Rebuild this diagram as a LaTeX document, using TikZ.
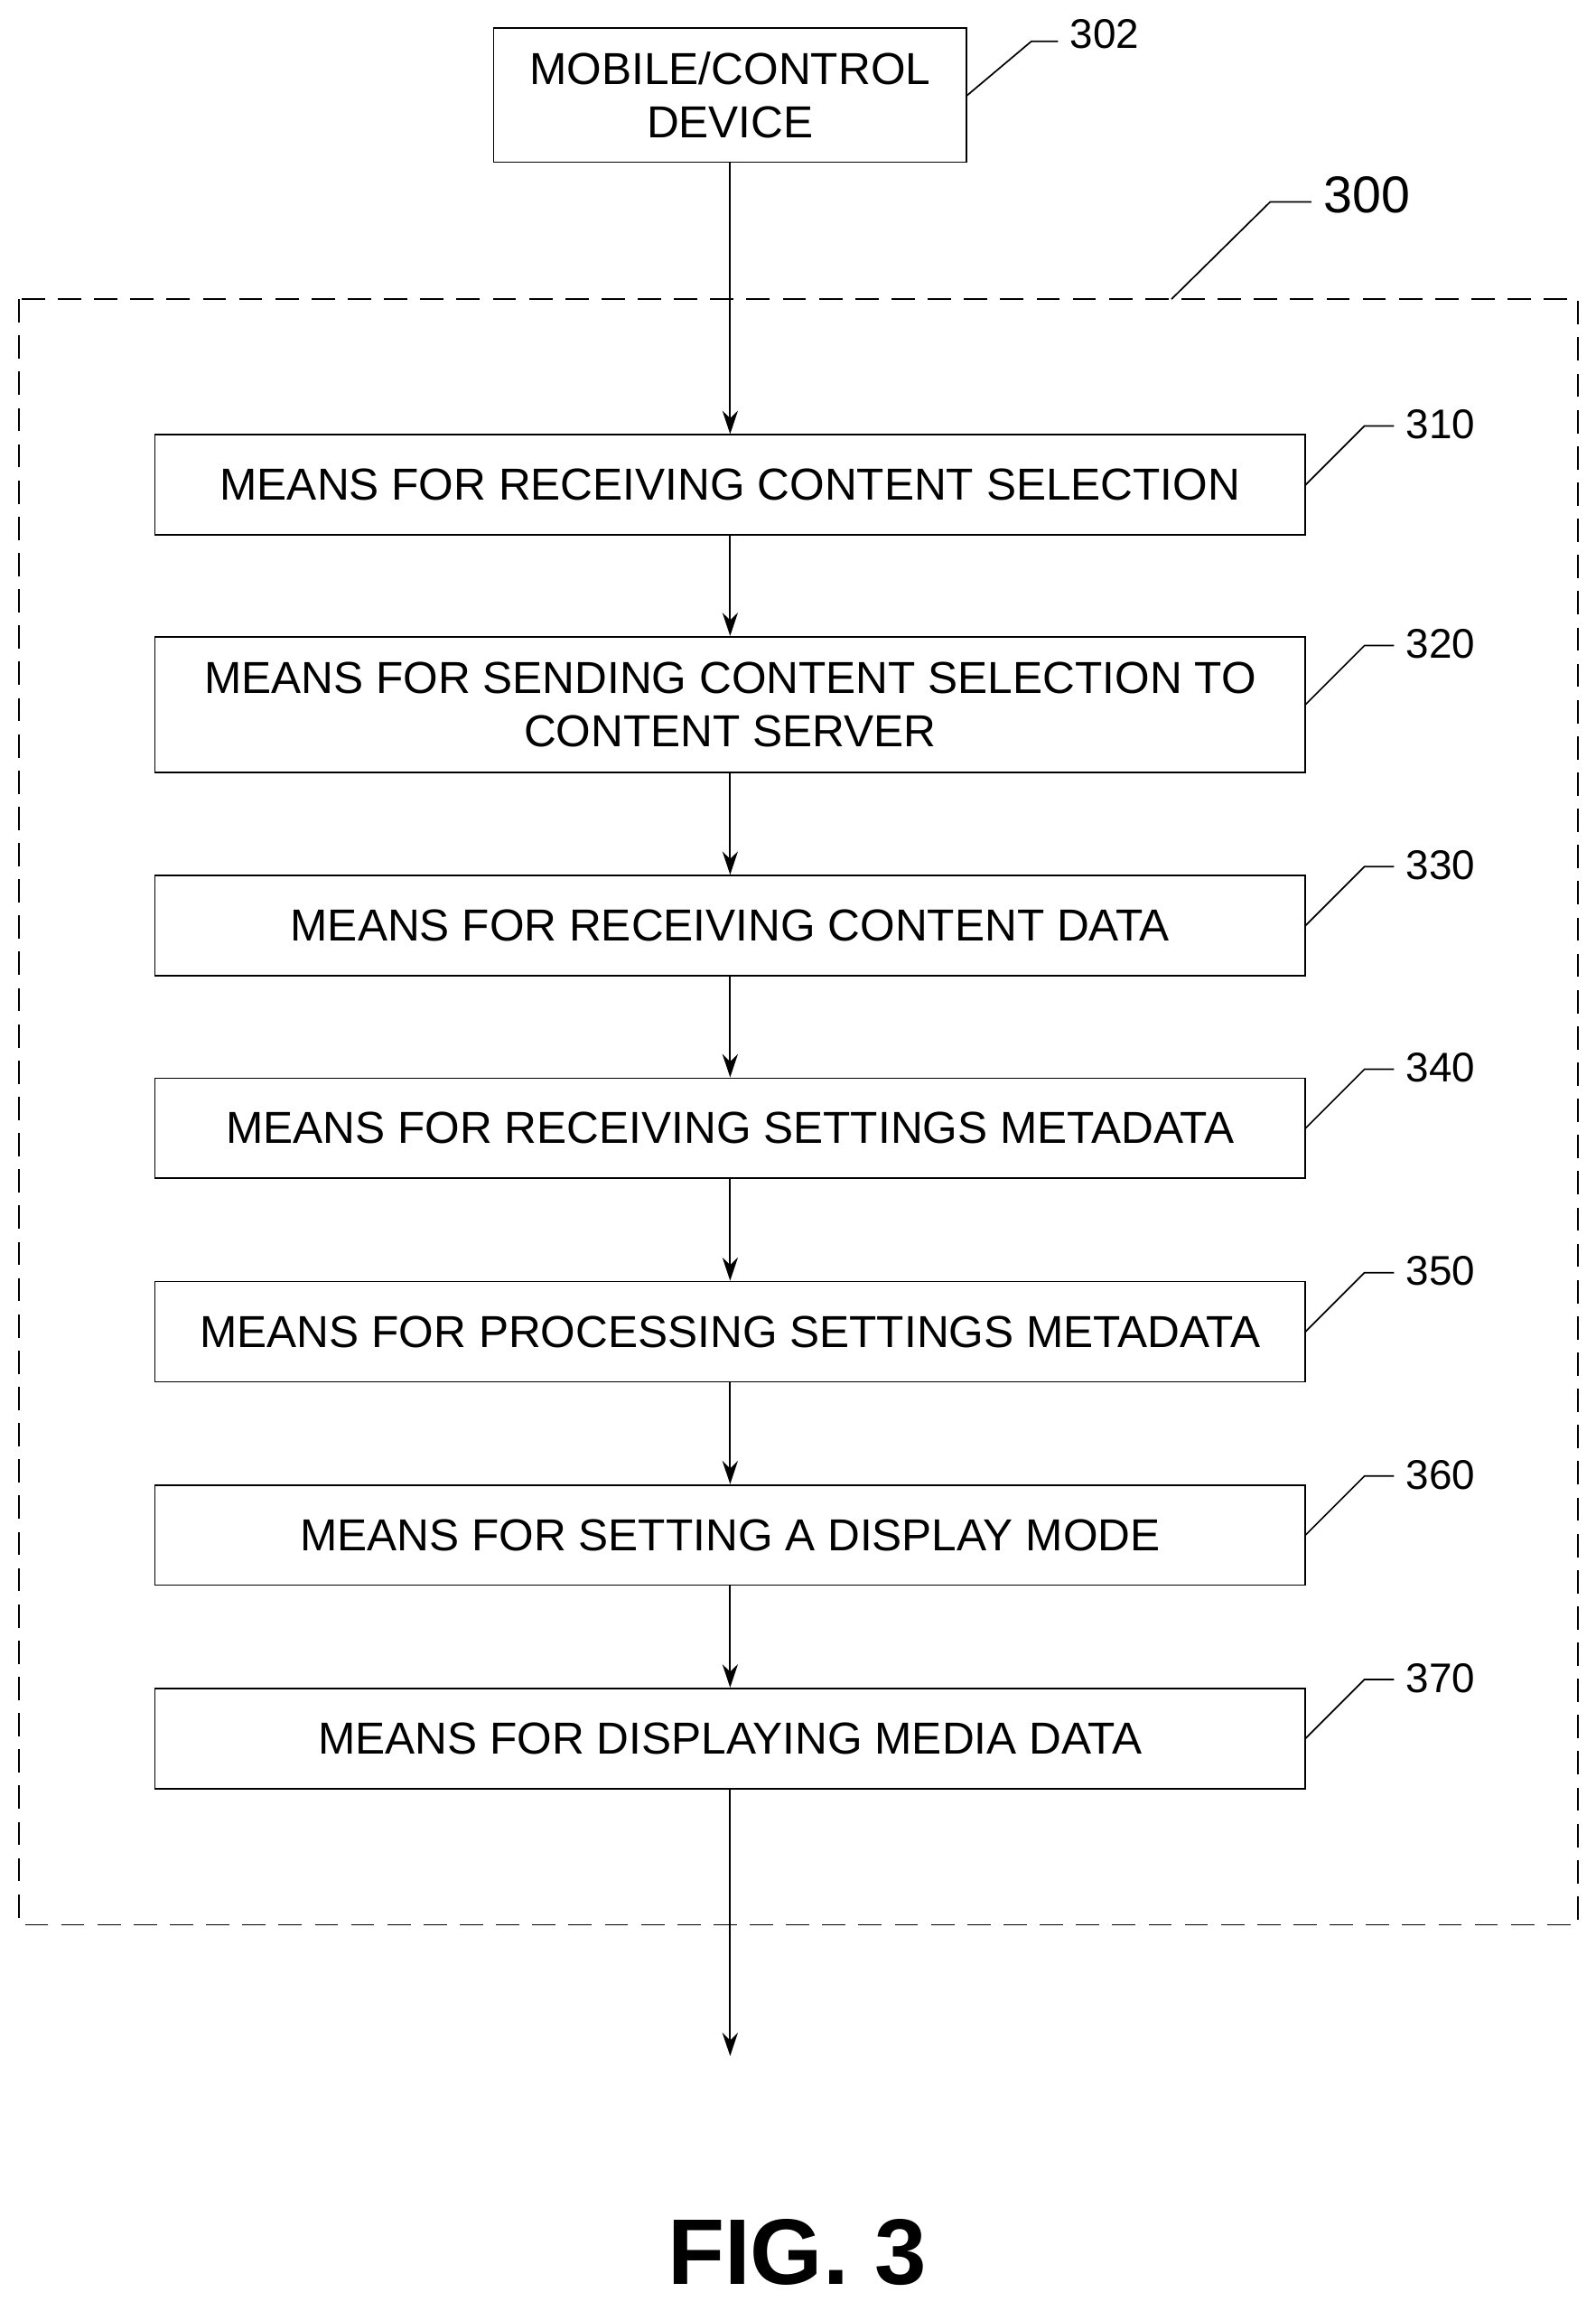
\documentclass[tikz,border=0pt]{standalone}
\usepackage{fontspec}
\setmainfont{Liberation Sans}
\usetikzlibrary{positioning,arrows.meta}
\tikzset{
	meansbox/.style={draw,semithick,minimum width=15.62cm,minimum height=1.36cm,align=center,font=\fontsize{17.3}{20.5}\selectfont},
	flow/.style={-{Stealth[length=9pt,width=6pt]},semithick},
	lead/.style={semithick},
	num/.style={font=\fontsize{16}{18}\selectfont,anchor=west}
}
\begin{document}
\begin{tikzpicture}[x=0.02cm,y=-0.02cm]
	\useasboundingbox (0,0) rectangle (1083,1568);
	\node[draw,semithick,minimum width=6.42cm,minimum height=1.82cm,align=center,font=\fontsize{17.3}{20.5}\selectfont] (b302) at (495.5,64.5) {MOBILE/CONTROL\\DEVICE};
	\draw[dash pattern=on 9pt off 5pt,semithick] (13,203) rectangle (1071,1306);
	
	\node[meansbox] (b310) at (495.5,329) {MEANS FOR RECEIVING CONTENT SELECTION};
	\node[meansbox,minimum height=1.84cm] (b320) at (495.5,478) {MEANS FOR SENDING CONTENT SELECTION TO\\CONTENT SERVER};
	\node[meansbox] (b330) at (495.5,628) {MEANS FOR RECEIVING CONTENT DATA};
	\node[meansbox] (b340) at (495.5,765.5) {MEANS FOR RECEIVING SETTINGS METADATA};
	\node[meansbox] (b350) at (495.5,903.5) {MEANS FOR PROCESSING SETTINGS METADATA};
	\node[meansbox] (b360) at (495.5,1041.5) {MEANS FOR SETTING A DISPLAY MODE};
	\node[meansbox] (b370) at (495.5,1179.5) {MEANS FOR DISPLAYING MEDIA DATA};
	\coordinate (out) at (495.5,1395);
	
	\draw[flow] (b302) -- (b310);
	\draw[flow] (b310) -- (b320);
	\draw[flow] (b320) -- (b330);
	\draw[flow] (b330) -- (b340);
	\draw[flow] (b340) -- (b350);
	\draw[flow] (b350) -- (b360);
	\draw[flow] (b360) -- (b370);
	\draw[flow] (b370) -- (out);
	
	% reference numerals
	\draw[lead] (656,65) -- (700,28) -- (718,28);
	\node[num] (n302) at (720,23) {302};
	\draw[lead] (795,203) -- (862,137) -- (890,137);
	\node[num,font=\fontsize{20}{24}\selectfont] (n300) at (892,132) {300};
	\foreach \n/\y in {310/329,320/478,330/628,340/765.5,350/903.5,360/1041.5,370/1179.5}{
		\draw[lead] (886,\y) -- (926,\y-40) -- (946,\y-40);
		\node[num] at (948,\y-41) {\n};
	}
	
	\node[font=\bfseries\fontsize{36}{42}\selectfont] (fig) at (541,1528) {FIG. 3};
\end{tikzpicture}
\end{document}
